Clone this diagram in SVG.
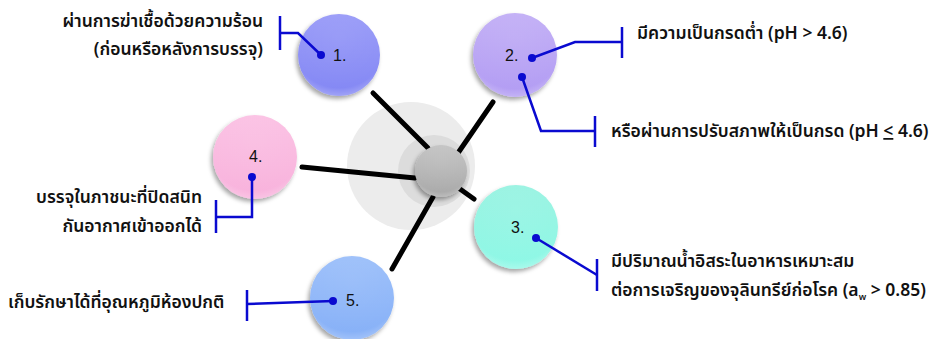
<svg xmlns="http://www.w3.org/2000/svg" width="941" height="339" viewBox="0 0 941 339">
  <defs>
    <style>
      .lbl { font-family: "Noto Sans Thai", "Noto Sans", "DejaVu Sans", sans-serif; font-size: 17.5px; font-weight: 600; fill: #111; }
      .num { font-family: "Liberation Sans", "DejaVu Sans", sans-serif; font-size: 16px; fill: #111; }
      .spoke { stroke: #000; stroke-width: 5; stroke-linecap: round; fill: none; }
      .lead { stroke: #0a0ad0; stroke-width: 2.5; fill: none; }
      .tick { stroke: #0a0ad0; stroke-width: 2.5; }
      .dot { fill: #0a0ad0; }
      .gloss { fill: url(#gloss); }
    </style>
    <filter id="shadow" x="-30%" y="-30%" width="160%" height="160%">
      <feDropShadow dx="-2" dy="3" stdDeviation="2" flood-color="#000" flood-opacity="0.35"/>
    </filter>
    <radialGradient id="gloss" cx="0.5" cy="0.3" r="0.75">
      <stop offset="0" stop-color="#fff" stop-opacity="0.05"/>
      <stop offset="0.8" stop-color="#fff" stop-opacity="0"/>
      <stop offset="1" stop-color="#fff" stop-opacity="0.35"/>
    </radialGradient>
    <linearGradient id="g1" x1="0" y1="0" x2="0" y2="1">
      <stop offset="0" stop-color="#9a9cf8"/><stop offset="1" stop-color="#8387f4"/>
    </linearGradient>
    <linearGradient id="g2" x1="0" y1="0" x2="0" y2="1">
      <stop offset="0" stop-color="#c3b0f6"/><stop offset="1" stop-color="#b29cf3"/>
    </linearGradient>
    <linearGradient id="g3" x1="0" y1="0" x2="0" y2="1">
      <stop offset="0" stop-color="#9af3e2"/><stop offset="1" stop-color="#8ef8e6"/>
    </linearGradient>
    <linearGradient id="g4" x1="0" y1="0" x2="0" y2="1">
      <stop offset="0" stop-color="#fbc2e4"/><stop offset="1" stop-color="#f8b2dc"/>
    </linearGradient>
    <linearGradient id="g5" x1="0" y1="0" x2="0" y2="1">
      <stop offset="0" stop-color="#9dc0fa"/><stop offset="1" stop-color="#86b0f7"/>
    </linearGradient>
    <linearGradient id="gc" x1="0" y1="0" x2="0" y2="1">
      <stop offset="0" stop-color="#c4c4c4"/><stop offset="1" stop-color="#a9a9a9"/>
    </linearGradient>
  </defs>

  <!-- hub backdrop -->
  <g id="hub-back">
    <circle cx="411" cy="166" r="64" fill="#ececec"/>
    <circle cx="434" cy="171" r="36" fill="#dcdcdc"/>
  </g>

  <!-- spokes from the hub -->
  <g id="connectors">
    <line class="spoke" x1="373" y1="93" x2="428" y2="148"/>
    <line class="spoke" x1="493" y1="102" x2="458" y2="153"/>
    <line class="spoke" x1="302" y1="167" x2="415" y2="178"/>
    <line class="spoke" x1="460" y1="189" x2="474" y2="199"/>
    <line class="spoke" x1="433" y1="197" x2="392" y2="269"/>
  </g>

  <g id="hub">
    <circle cx="441" cy="171" r="26" fill="url(#gc)" filter="url(#shadow)"/>
    <circle cx="441" cy="171" r="26" class="gloss"/>
  </g>

  <g id="node1">
    <circle cx="339" cy="55" r="41" fill="url(#g1)" filter="url(#shadow)"/>
    <circle cx="339" cy="55" r="41" class="gloss"/>
    <text class="num" x="333" y="61">1.</text>
  </g>

  <g id="node2">
    <circle cx="515" cy="55" r="42" fill="url(#g2)" filter="url(#shadow)"/>
    <circle cx="515" cy="55" r="42" class="gloss"/>
    <text class="num" x="505" y="61">2.</text>
  </g>

  <g id="node3">
    <circle cx="516" cy="227" r="42" fill="url(#g3)" filter="url(#shadow)"/>
    <circle cx="516" cy="227" r="42" class="gloss"/>
    <text class="num" x="511" y="233">3.</text>
  </g>

  <g id="node4">
    <circle cx="255" cy="157" r="42" fill="url(#g4)" filter="url(#shadow)"/>
    <circle cx="255" cy="157" r="42" class="gloss"/>
    <text class="num" x="249" y="162">4.</text>
  </g>

  <g id="node5">
    <circle cx="352" cy="298" r="42" fill="url(#g5)" filter="url(#shadow)"/>
    <circle cx="352" cy="298" r="42" class="gloss"/>
    <text class="num" x="346" y="306">5.</text>
  </g>

  <!-- leader lines from the nodes to their labels -->
  <g id="leaders">
    <polyline class="lead" points="321,55 298,33 280,33"/>
    <line class="tick" x1="280" y1="16" x2="280" y2="50"/>
    <circle class="dot" cx="321" cy="55" r="4"/>

    <polyline class="lead" points="532,58 575,42 622,42"/>
    <line class="tick" x1="622" y1="27" x2="622" y2="58"/>
    <circle class="dot" cx="532" cy="58" r="4"/>

    <polyline class="lead" points="522,77 541,131 595,131"/>
    <line class="tick" x1="595" y1="116" x2="595" y2="147"/>
    <circle class="dot" cx="522" cy="77" r="4"/>

    <line class="lead" x1="536" y1="238" x2="597" y2="275"/>
    <line class="tick" x1="597" y1="259" x2="597" y2="291"/>
    <circle class="dot" cx="536" cy="238" r="4"/>

    <polyline class="lead" points="252,177 252,217 216,217"/>
    <line class="tick" x1="216" y1="200" x2="216" y2="233"/>
    <circle class="dot" cx="252" cy="177" r="4"/>

    <line class="lead" x1="333" y1="301" x2="247" y2="304"/>
    <line class="tick" x1="247" y1="290" x2="247" y2="321"/>
    <circle class="dot" cx="333" cy="301" r="4"/>
  </g>

  <!-- labels -->
  <g id="label1">
    <text class="lbl" x="263" y="27" text-anchor="end">ผ่านการฆ่าเชื้อด้วยความร้อน</text>
    <text class="lbl" x="263" y="55" text-anchor="end">(ก่อนหรือหลังการบรรจุ)</text>
  </g>
  <g id="label2">
    <text class="lbl" x="637" y="39">มีความเป็นกรดต่ำ (pH &gt; 4.6)</text>
  </g>
  <g id="label2b">
    <text class="lbl" x="611" y="137">หรือผ่านการปรับสภาพให้เป็นกรด (pH <tspan text-decoration="underline">&lt;</tspan> 4.6)</text>
  </g>
  <g id="label3">
    <text class="lbl" x="611" y="267">มีปริมาณน้ำอิสระในอาหารเหมาะสม</text>
    <text class="lbl" x="611" y="296">ต่อการเจริญของจุลินทรีย์ก่อโรค (a<tspan font-size="9" dy="4">w</tspan><tspan dy="-4"> &gt; 0.85)</tspan></text>
  </g>
  <g id="label4">
    <text class="lbl" x="202" y="203" text-anchor="end">บรรจุในภาชนะที่ปิดสนิท</text>
    <text class="lbl" x="202" y="232" text-anchor="end">กันอากาศเข้าออกได้</text>
  </g>
  <g id="label5">
    <text class="lbl" x="8" y="308">เก็บรักษาได้ที่อุณหภูมิห้องปกติ</text>
  </g>
</svg>
